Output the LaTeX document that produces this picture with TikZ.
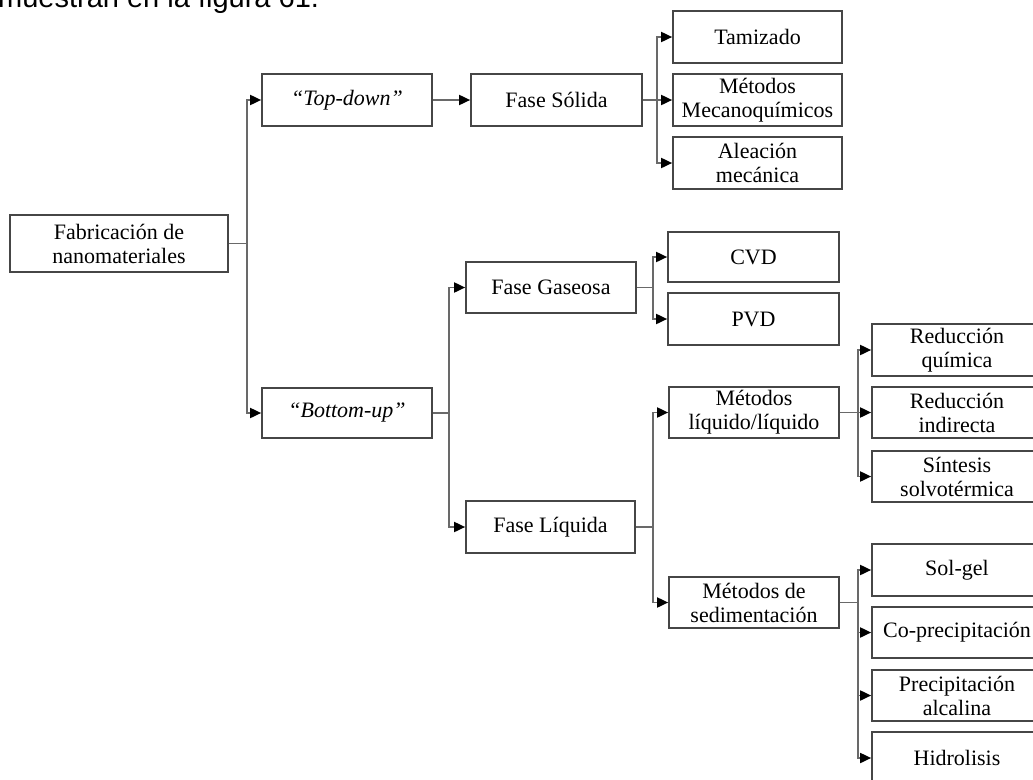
\documentclass[tikz,border=0pt]{standalone}
\usepackage{fontspec}
\setmainfont{Liberation Serif}
\newfontfamily\topsans{Liberation Sans}
\usetikzlibrary{arrows.meta}
\definecolor{linecol}{RGB}{105,105,105}
\definecolor{boxcol}{RGB}{70,70,70}
\tikzset{
  bx/.style={draw=boxcol, line width=1.7pt, rectangle, align=center, inner sep=0pt,
    font=\fontsize{22}{24}\selectfont},
  conn/.style={draw=linecol, line width=1.8pt, -{Triangle[length=11pt,width=10pt,color=black]}},
}
\begin{document}
\begin{tikzpicture}[x=1pt,y=-1pt]
\useasboundingbox (0,0) rectangle (1033,779);
\clip (0,0) rectangle (1033,779);
% partial text at top (cut by the picture's upper edge)
\node[anchor=base west, inner sep=0pt, font=\topsans\fontsize{29}{32}\selectfont] (toptext) at (-2,8) {muestran en la figura 61.};
% boxes
\node[bx, minimum width=218pt, minimum height=57pt] (fab) at (119,243.5) {Fabricación de\\nanomateriales};
\node[bx, minimum width=170pt, minimum height=52pt] (td) at (347,100) {\textit{“Top-down”}};
\node[bx, minimum width=171pt, minimum height=52pt] (fs) at (556.5,100) {Fase Sólida};
\node[bx, minimum width=169pt, minimum height=52pt] (tam) at (757.5,37) {Tamizado};
\node[bx, minimum width=169pt, minimum height=52pt] (mec) at (757.5,100) {Métodos\\Mecanoquímicos};
\node[bx, minimum width=169pt, minimum height=52pt] (ale) at (757.5,163) {Aleación\\mecánica};
\node[bx, minimum width=170pt, minimum height=50pt] (bu) at (347,413) {\textit{“Bottom-up”}};
\node[bx, minimum width=170pt, minimum height=51pt] (fg) at (551,287.5) {Fase Gaseosa};
\node[bx, minimum width=169pt, minimum height=52pt] (fl) at (550.5,527) {Fase Líquida};
\node[bx, minimum width=171pt, minimum height=50pt] (cvd) at (753.5,257) {CVD};
\node[bx, minimum width=171pt, minimum height=52pt] (pvd) at (753.5,319) {PVD};
\node[bx, minimum width=170pt, minimum height=51pt] (liq) at (754,412.5) {Métodos\\líquido/líquido};
\node[bx, minimum width=170pt, minimum height=51pt] (sed) at (754,602.5) {Métodos de\\sedimentación};
\node[bx, minimum width=170pt, minimum height=52pt] (rq) at (957,350) {Reducción\\química};
\node[bx, minimum width=170pt, minimum height=51pt] (ri) at (957,412.5) {Reducción\\indirecta};
\node[bx, minimum width=170pt, minimum height=51pt] (st) at (957,476.5) {Síntesis\\solvotérmica};
\node[bx, minimum width=170pt, minimum height=52pt] (sg) at (957,570) {Sol-gel};
\node[bx, minimum width=170pt, minimum height=51pt] (cp) at (957,632.5) {Co-precipitación};
\node[bx, minimum width=170pt, minimum height=51pt] (pa) at (957,695.5) {Precipitación\\alcalina};
\node[bx, minimum width=170pt, minimum height=52pt] (hi) at (957,758) {Hidrolisis};
% connectors
\draw[conn] (fab.east) -- ++(18,0) |- (td.west);
\draw[conn] (fab.east) -- ++(18,0) |- (bu.west);
\draw[conn] (td.east) -- (fs.west);
\draw[conn] (fs.east) -- ++(14,0) |- (tam.west);
\draw[conn] (fs.east) -- (mec.west);
\draw[conn] (fs.east) -- ++(14,0) |- (ale.west);
\draw[conn] (bu.east) -- ++(16,0) |- (fg.west);
\draw[conn] (bu.east) -- ++(16,0) |- (fl.west);
\draw[conn] (fg.east) -- ++(16,0) |- (cvd.west);
\draw[conn] (fg.east) -- ++(16,0) |- (pvd.west);
\draw[conn] (fl.east) -- ++(17,0) |- (liq.west);
\draw[conn] (fl.east) -- ++(17,0) |- (sed.west);
\draw[conn] (liq.east) -- ++(18,0) |- (rq.west);
\draw[conn] (liq.east) -- (ri.west);
\draw[conn] (liq.east) -- ++(18,0) |- (st.west);
\draw[conn] (sed.east) -- ++(18,0) |- (sg.west);
\draw[conn] (sed.east) -- ++(18,0) |- (cp.west);
\draw[conn] (sed.east) -- ++(18,0) |- (pa.west);
\draw[conn] (sed.east) -- ++(18,0) |- (hi.west);
\end{tikzpicture}
\end{document}
